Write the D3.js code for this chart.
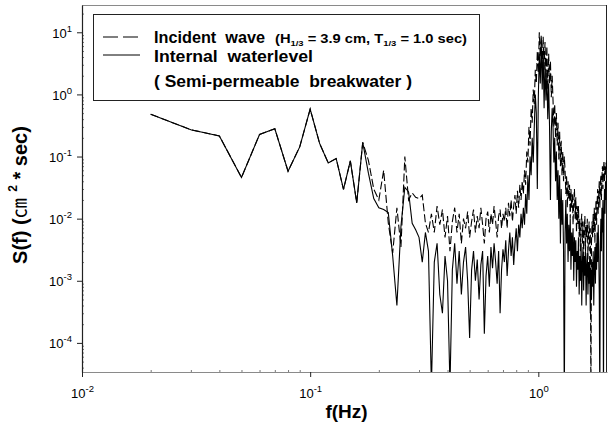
<!DOCTYPE html>
<html>
<head>
<meta charset="utf-8">
<script src="https://cdn.jsdelivr.net/npm/d3@7"></script>
<style>
  body { margin: 0; background: #fff; }
  svg { display: block; }
  text { font-family: "Liberation Sans", Arial, Helvetica, sans-serif; fill: #000; }
</style>
</head>
<body>
<svg id="chart" width="611" height="425"></svg>
<script>
// Spectral density sampled every 0.01 Hz
const freqHz = [
  0.02,0.03,0.04,0.05,0.06,0.07,0.08,0.09,
  0.10,0.11,0.12,0.13,0.14,0.15,0.16,0.17,0.18,0.19,
  0.20,0.21,0.22,0.23,0.24,0.25,0.26,0.27,0.28,0.29,
  0.30,0.31,0.32,0.33,0.34,0.35,0.36,0.37,0.38,0.39,
  0.40,0.41,0.42,0.43,0.44,0.45,0.46,0.47,0.48,0.49,
  0.50,0.51,0.52,0.53,0.54,0.55,0.56,0.57,0.58,0.59,
  0.60,0.61,0.62,0.63,0.64,0.65,0.66,0.67,0.68,0.69,
  0.70,0.71,0.72,0.73,0.74,0.75,0.76,0.77,0.78,0.79,
  0.80,0.81,0.82,0.83,0.84,0.85,0.86,0.87,0.88,0.89,
  0.90,0.91,0.92,0.93,0.94,0.95,0.96,0.97,0.98,0.99,
  1.00,1.01,1.02,1.03,1.04,1.05,1.06,1.07,1.08,1.09,
  1.10,1.11,1.12,1.13,1.14,1.15,1.16,1.17,1.18,1.19,
  1.20,1.21,1.22,1.23,1.24,1.25,1.26,1.27,1.28,1.29,
  1.30,1.31,1.32,1.33,1.34,1.35,1.36,1.37,1.38,1.39,
  1.40,1.41,1.42,1.43,1.44,1.45,1.46,1.47,1.48,1.49,
  1.50,1.51,1.52,1.53,1.54,1.55,1.56,1.57,1.58,1.59,
  1.60,1.61,1.62,1.63,1.64,1.65,1.66,1.67,1.68,1.69,
  1.70,1.71,1.72,1.73,1.74,1.75,1.76,1.77,1.78,1.79,
  1.80,1.81,1.82,1.83,1.84,1.85,1.86,1.87,1.88,1.89,
  1.90,1.91,1.92,1.93,1.94,1.95,1.96,1.97,1.98,1.99,
  2.00
];

// Incident wave spectrum S(f), cm^2*sec (dashed)
const incidentWave = [
  0.48,0.27,0.215,0.046,0.227,0.28,0.058,0.143,
  0.58,0.163,0.079,0.093,0.0295,0.085,0.018,0.169,0.087,0.03,
  0.02,0.06,0.0085,0.0028,0.015,0.0035,0.1,0.02,0.026,0.022,
  0.021,0.024,0.0085,0.006,0.012,0.006,0.016,0.008,0.014,0.005,
  0.011,0.003,0.009,0.015,0.006,0.012,0.004,0.01,0.007,0.013,
  0.005,0.009,0.014,0.006,0.011,0.007,0.015,0.008,0.004,0.01,
  0.013,0.006,0.012,0.008,0.016,0.009,0.005,0.011,0.014,0.007,
  0.012,0.009,0.015,0.007,0.018,0.011,0.02,0.009,0.016,0.024,
  0.012,0.028,0.015,0.035,0.02,0.04,0.025,0.06,0.035,0.12,
  0.08,0.3,0.15,0.6,0.35,1.2,0.7,2.5,1.5,5,
  2.2,10,4,9,3,8.5,2.5,7,1.8,6,
  1.2,4.5,1.5,3.5,0.9,2,0.8,0.3,0.7,0.2,
  0.5,0.15,0.35,0.09,0.25,0.07,0.18,0.05,0.12,0.04,
  0.1,0.06,0.025,0.05,0.015,0.04,0.02,0.035,0.01,0.03,
  0.015,0.025,0.008,0.02,0.03,0.01,0.022,0.006,0.016,0.008,
  0.016,0.005,0.01,0.003,0.008,0.012,0.004,0.009,0.0025,0.007,
  0.011,0.003,0.008,0.005,0.01,0.0022,0.006,0.009,0.003,0.007,
  0.00001,0.004,0.009,0.005,0.012,0.006,0.015,0.004,0.01,0.02,
  0.008,0.018,0.03,0.012,0.025,0.04,0.015,0.035,0.05,0.02,
  0.045,0.07,0.03,0.06,0.085,0.04,0.07,0.05,0.08,0.06,
  0.09
];

// Internal water level spectrum S(f), semi-permeable breakwater (solid)
const internalLevel = [
  0.48,0.27,0.215,0.046,0.227,0.28,0.058,0.143,
  0.58,0.163,0.079,0.093,0.0295,0.085,0.018,0.169,0.054,0.021,
  0.015,0.014,0.0125,0.0025,0.0004,0.0075,0.032,0.027,0.0084,0.0066,
  0.005,0.002,0.006,0.003,0.00002,0.002,0.004,0.0006,0.0003,0.0025,
  0.001,0.00002,0.0015,0.004,0.0009,0.003,0.0006,0.002,0.0035,0.001,
  0.00012,0.0015,0.003,0.001,0.0022,0.0005,0.0018,0.003,0.00014,0.0012,
  0.0025,0.0008,0.0035,0.0016,0.004,0.002,0.0009,0.003,0.0003,0.0015,
  0.0032,0.002,0.0045,0.0012,0.003,0.006,0.0025,0.005,0.0018,0.004,
  0.007,0.003,0.008,0.005,0.012,0.007,0.015,0.008,0.025,0.012,
  0.05,0.02,0.1,0.05,0.2,0.08,0.3,1.0,0.5,0.03,
  0.9,4.5,1.5,7,1.2,5,0.6,3,0.8,2.2,
  0.4,1.5,0.3,0.02,0.25,0.6,0.3,0.08,0.2,0.04,
  0.12,0.02,0.06,0.01,0.05,0.004,0.03,0.008,0.02,0.003,
  0.00001,0.006,0.02,0.004,0.012,0.002,0.008,0.003,0.01,0.0015,
  0.006,0.0025,0.007,0.001,0.005,0.002,0.0045,0.0008,0.003,0.0015,
  0.005,0.0006,0.0025,0.001,0.004,0.0004,0.002,0.0035,0.0007,0.0025,
  0.0012,0.003,0.0004,0.0018,0.0028,0.0006,0.002,0.0009,0.0025,0.0003,
  0.0015,0.0005,0.002,0.0008,0.003,0.0004,0.0018,0.0035,0.0009,0.004,
  0.0015,0.006,0.002,0.008,0.003,0.0006,0.00001,0.004,0.01,0.003,
  0.015,0.006,0.02,0.00001,0.01,0.03,0.012,0.04,0.02,0.05,
  0.03
];

const yTickExponents = [1, 0, -1, -2, -3, -4];
const xTickExponents = [-2, -1, 0];
const legendLabels = ["Incident  wave", "Internal  waterlevel", "( Semi-permeable  breakwater )"];
const waveCondition = { H: "3.9 cm", T: "1.0 sec" };

const svg = d3.select("#chart");
const plot = { left: 82, right: 607, top: 5, bottom: 372 };

const x = d3.scaleLog().domain([0.01, 2]).range([plot.left, plot.right]);
const y = d3.scaleLog().domain([3.4e-5, 27.5]).range([plot.bottom, plot.top]);

svg.append("defs").append("clipPath").attr("id", "plotClip")
  .append("rect")
  .attr("x", plot.left).attr("y", plot.top)
  .attr("width", plot.right - plot.left).attr("height", plot.bottom - plot.top);

// frame: top and right edges
svg.append("line").attr("x1", plot.left).attr("x2", plot.right)
  .attr("y1", plot.top + 0.5).attr("y2", plot.top + 0.5)
  .attr("stroke", "#8a8a8a").attr("stroke-width", 1);
svg.append("line").attr("x1", plot.right - 0.5).attr("x2", plot.right - 0.5)
  .attr("y1", plot.top).attr("y2", plot.bottom)
  .attr("stroke", "#222").attr("stroke-width", 1);

// data series
const incident = freqHz.map((f, i) => ({ f, v: incidentWave[i] }));
const internal = freqHz.map((f, i) => ({ f, v: internalLevel[i] }));
const line = d3.line().x(d => x(d.f)).y(d => y(d.v));

const series = svg.append("g").attr("clip-path", "url(#plotClip)");
series.append("path").datum(incident)
  .attr("d", line).attr("fill", "none").attr("stroke", "#000")
  .attr("stroke-width", 1.1).attr("stroke-dasharray", "8,3");
series.append("path").datum(internal)
  .attr("d", line).attr("fill", "none").attr("stroke", "#000")
  .attr("stroke-width", 1.1);

// axes: major ticks outward, minor ticks inward
const yMajor = yTickExponents.map(e => Math.pow(10, e));
const yMinor = [];
[-5, -4, -3, -2, -1, 0, 1].forEach(e => {
  for (let k = 2; k <= 9; k++) {
    const v = k * Math.pow(10, e);
    if (v >= y.domain()[0] && v <= y.domain()[1]) yMinor.push(v);
  }
});
const xMajor = xTickExponents.map(e => Math.pow(10, e));
const xMinor = [];
[-2, -1, 0].forEach(e => {
  for (let k = 2; k <= 9; k++) {
    const v = k * Math.pow(10, e);
    if (v < 2) xMinor.push(v);
  }
});

const gy = svg.append("g").attr("transform", `translate(${plot.left},0)`);
gy.call(d3.axisLeft(y).tickValues(yMinor).tickSize(-2).tickFormat(""))
  .call(g => g.select(".domain").remove())
  .call(g => g.selectAll("line").attr("stroke", "#777"));
const gyMajor = svg.append("g").attr("transform", `translate(${plot.left},0)`);
gyMajor.call(d3.axisLeft(y).tickValues(yMajor).tickSize(5).tickSizeOuter(0).tickFormat(""))
  .call(g => g.select(".domain").attr("stroke", "#222").attr("stroke-width", 1.2))
  .call(g => g.selectAll(".tick line").attr("stroke", "#222"));

gyMajor.selectAll(".tick").each(function (d) {
  const t = d3.select(this).append("text")
    .attr("x", -10).attr("y", 5)
    .attr("text-anchor", "end")
    .style("font-size", "13px");
  t.append("tspan").text("10");
  t.append("tspan").attr("dy", -6).style("font-size", "9.5px").text(Math.round(Math.log10(d)));
});

const gx = svg.append("g").attr("transform", `translate(0,${plot.bottom})`);
gx.call(d3.axisBottom(x).tickValues(xMinor).tickSize(-2).tickFormat(""))
  .call(g => g.select(".domain").remove())
  .call(g => g.selectAll("line").attr("stroke", "#777"));
const gxMajor = svg.append("g").attr("transform", `translate(0,${plot.bottom})`);
gxMajor.call(d3.axisBottom(x).tickValues(xMajor).tickSize(5).tickSizeOuter(0).tickFormat(""))
  .call(g => g.select(".domain").attr("stroke", "#8a8a8a").attr("stroke-width", 1.2))
  .call(g => g.selectAll(".tick line").attr("stroke", "#222"));

gxMajor.selectAll(".tick").each(function (d) {
  const t = d3.select(this).append("text")
    .attr("x", 0).attr("y", 26)
    .attr("text-anchor", "middle")
    .style("font-size", "13px");
  t.append("tspan").text("10");
  t.append("tspan").attr("dy", -6).style("font-size", "9.5px").text(Math.round(Math.log10(d)));
});

// axis titles
svg.append("text")
  .attr("x", (plot.left + plot.right) / 2 + 2).attr("y", 418)
  .attr("text-anchor", "middle")
  .style("font-size", "19px").style("font-weight", "bold")
  .text("f(Hz)");

const yTitle = svg.append("text")
  .attr("transform", `translate(27,195) rotate(-90)`)
  .attr("text-anchor", "middle")
  .style("font-size", "20px").style("font-weight", "bold")
  .style("white-space", "pre");
yTitle.append("tspan").text("S(f) (");
yTitle.append("tspan").style("font-family", "'Noto Sans CJK SC', sans-serif").style("font-weight", "normal").text("㎝");
yTitle.append("tspan").attr("dy", -10).style("font-size", "12px").text("  2");
yTitle.append("tspan").attr("dy", 10).text(" * sec)");

// legend
const lg = svg.append("g");
lg.append("rect")
  .attr("x", 93.5).attr("y", 14.5).attr("width", 386).attr("height", 86)
  .attr("fill", "#fff").attr("stroke", "#222").attr("stroke-width", 1);
lg.append("line").attr("x1", 103).attr("x2", 140).attr("y1", 37).attr("y2", 37)
  .attr("stroke", "#000").attr("stroke-width", 1.2).attr("stroke-dasharray", "15,5");
lg.append("line").attr("x1", 103).attr("x2", 140).attr("y1", 55).attr("y2", 55)
  .attr("stroke", "#000").attr("stroke-width", 1);

const legendRows = [
  { text: legendLabels[0], y: 43, w: 111 },
  { text: legendLabels[1], y: 62, w: 159 },
  { text: legendLabels[2], y: 87, w: 258 }
];
legendRows.forEach(r => {
  lg.append("text")
    .attr("x", 154).attr("y", r.y)
    .attr("textLength", r.w).attr("lengthAdjust", "spacingAndGlyphs")
    .style("font-size", "17px").style("font-weight", "bold")
    .style("white-space", "pre")
    .text(r.text);
});

const cond = lg.append("text")
  .attr("x", 275).attr("y", 43)
  .attr("textLength", 192).attr("lengthAdjust", "spacingAndGlyphs")
  .style("font-size", "12.5px").style("font-weight", "bold")
  .style("white-space", "pre");
cond.append("tspan").text("(H");
cond.append("tspan").attr("dy", 3).style("font-size", "8px").text("1/3");
cond.append("tspan").attr("dy", -3).text(` = ${waveCondition.H}, T`);
cond.append("tspan").attr("dy", 3).style("font-size", "8px").text("1/3");
cond.append("tspan").attr("dy", -3).text(` = ${waveCondition.T})`);
</script>
</body>
</html>
